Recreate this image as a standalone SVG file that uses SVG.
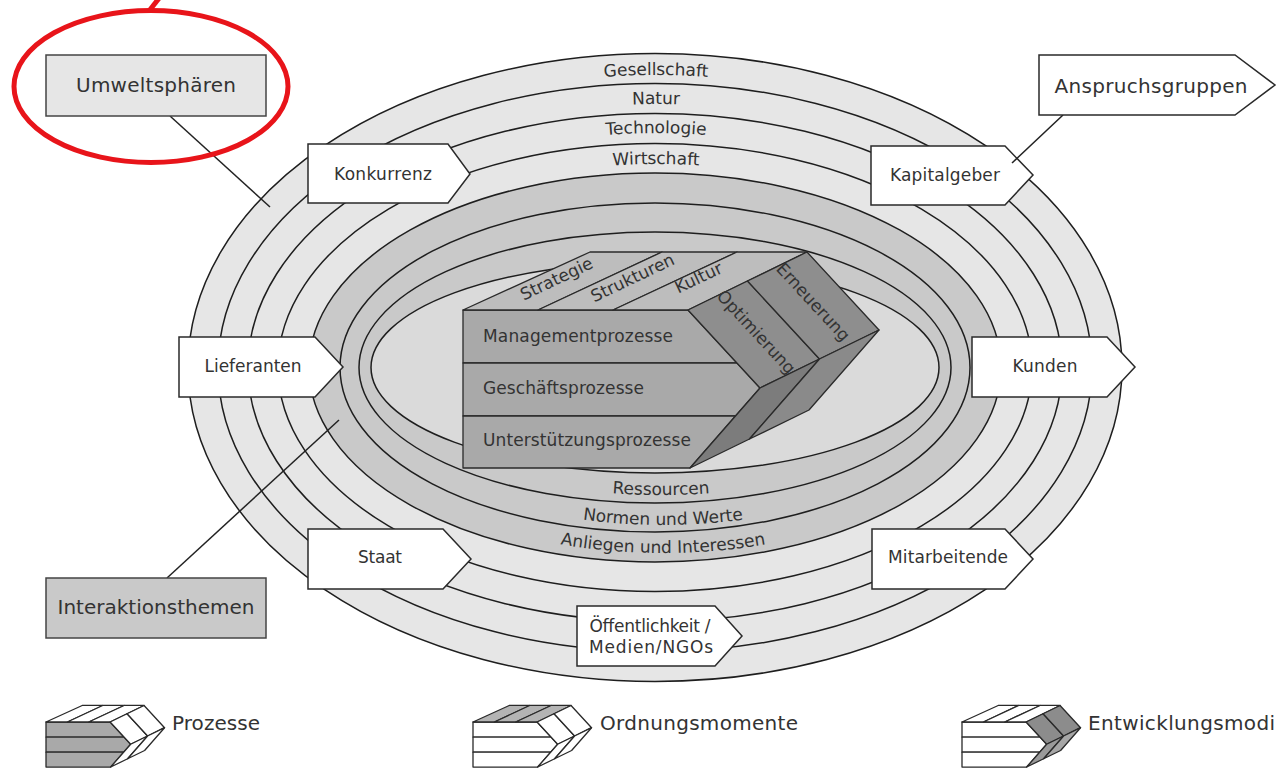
<svg xmlns="http://www.w3.org/2000/svg" xmlns:xlink="http://www.w3.org/1999/xlink" width="1282" height="768" viewBox="0 0 1282 768">
  <style>
    text { font-family: "DejaVu Sans", "Liberation Sans", sans-serif; fill: #333; }
    .lbl { font-size: 17px; }
    .big { font-size: 20px; }
    .mid { text-anchor: middle; }
    .ring { stroke: #1e1e1e; stroke-width: 1.5; }
    .band { fill: #e6e6e6; }
    .core { fill: #c9c9c9; }
    .hub { fill: #dadada; }
    .tag { fill: #fff; stroke: #2a2a2a; stroke-width: 1.5; stroke-linejoin: miter; }
    .key { stroke: #444; stroke-width: 1.5; }
    .edge { stroke: #222; stroke-width: 1.5; fill: none; }
    .face { stroke: #2a2a2a; stroke-width: 1.3; stroke-linejoin: round; vector-effect: non-scaling-stroke; }
    .f-front { fill: var(--front, #a9a9a9); }
    .f-top { fill: var(--top, #bdbdbd); }
    .f-side { fill: var(--side, #8e8e8e); }
    .f-low { fill: var(--low, #7c7c7c); }
    .f-low2 { fill: var(--low2, #8a8a8a); }
    .mark { fill: none; stroke: #e8141a; stroke-width: 5; }
  </style>
  <defs>
    <!-- prism: front (process rows), top (order stripes), slanted side (development modes) -->
    <g id="prism">
      <polygon class="face f-front" points="0,0 225,0 274,53 0,53"/>
      <polygon class="face f-front" points="0,53 274,53 297,78 272.5,106 0,106"/>
      <polygon class="face f-front" points="0,106 272.5,106 227,158 0,158"/>
      <polygon class="face f-top" points="0,0 127,-58 199,-58 75,0"/>
      <polygon class="face f-top" points="75,0 199,-58 274,-58 150,0"/>
      <polygon class="face f-top" points="150,0 274,-58 344,-58 225,0"/>
      <polygon class="face f-side" points="225,0 284.5,-29 356.5,49 297,78"/>
      <polygon class="face f-side" points="284.5,-29 344,-58 416,20 356.5,49"/>
      <polygon class="face f-low" points="297,78 356.5,49 286.5,129 227,158"/>
      <polygon class="face f-low2" points="356.5,49 416,20 346,100 286.5,129"/>
    </g>
    <path id="arcGes" d="M 210,367.5 A 446,292.5 0 0 1 1102,367.5"/>
    <path id="arcNat" d="M 240,367.5 A 416,263.5 0 0 1 1072,367.5"/>
    <path id="arcTec" d="M 270,367.5 A 386,234.5 0 0 1 1042,367.5"/>
    <path id="arcWir" d="M 300,367.5 A 356,203.5 0 0 1 1012,367.5"/>
    <path id="arcRes" d="M 374,367.5 A 287,127.5 0 0 0 948,367.5"/>
    <path id="arcNor" d="M 354,367.5 A 309,157.5 0 0 0 972,367.5"/>
    <path id="arcAnl" d="M 324,367.5 A 339,185.5 0 0 0 1002,367.5"/>
  </defs>

  <rect width="1282" height="768" fill="#fff"/>

  <!-- concentric spheres -->
  <g id="spheres">
    <ellipse class="ring band" cx="655" cy="367.5" rx="467" ry="314"/>
    <ellipse class="ring band" cx="655" cy="367.5" rx="437" ry="284"/>
    <ellipse class="ring band" cx="655" cy="367.5" rx="407" ry="254"/>
    <ellipse class="ring band" cx="655" cy="367.5" rx="377" ry="224"/>
    <ellipse class="ring core" cx="655" cy="367.5" rx="346" ry="194.5"/>
    <ellipse class="ring core" cx="655" cy="367.5" rx="315" ry="164.5"/>
    <ellipse class="ring core" cx="655" cy="367.5" rx="296" ry="135.5"/>
    <ellipse class="ring hub" cx="655" cy="367.5" rx="284" ry="105.5"/>
  </g>

  <g id="sphere-labels" class="lbl">
    <text class="mid"><textPath xlink:href="#arcGes" startOffset="50%">Gesellschaft</textPath></text>
    <text class="mid"><textPath xlink:href="#arcNat" startOffset="50%">Natur</textPath></text>
    <text class="mid"><textPath xlink:href="#arcTec" startOffset="50%">Technologie</textPath></text>
    <text class="mid"><textPath xlink:href="#arcWir" startOffset="50%">Wirtschaft</textPath></text>
    <text class="mid"><textPath xlink:href="#arcRes" startOffset="50%">Ressourcen</textPath></text>
    <text class="mid"><textPath xlink:href="#arcNor" startOffset="50%">Normen und Werte</textPath></text>
    <text class="mid"><textPath xlink:href="#arcAnl" startOffset="50%">Anliegen und Interessen</textPath></text>
  </g>

  <!-- company model -->
  <g id="unternehmen">
    <use xlink:href="#prism" transform="translate(463,310)"/>
    <text class="lbl" x="483" y="342" textLength="190">Managementprozesse</text>
    <text class="lbl" x="483" y="394" textLength="161">Geschäftsprozesse</text>
    <text class="lbl" x="483" y="446" textLength="208">Unterstützungsprozesse</text>
    <text class="lbl mid" transform="translate(559,284) rotate(-25.4)">Strategie</text>
    <text class="lbl mid" transform="translate(635,283) rotate(-25.4)">Strukturen</text>
    <text class="lbl mid" transform="translate(701,283) rotate(-25.4)">Kultur</text>
    <text class="lbl mid" transform="translate(752,336) rotate(47.3)">Optimierung</text>
    <text class="lbl mid" transform="translate(809,306) rotate(47.3)">Erneuerung</text>
  </g>

  <!-- stakeholder tags -->
  <g id="konkurrenz">
    <polygon class="tag" points="308,144 448,144 470,174 448,203 308,203"/>
    <text class="lbl mid" x="383" y="180" textLength="98">Konkurrenz</text>
  </g>
  <g id="kapitalgeber">
    <polygon class="tag" points="871,146 1005,146 1033,175 1005,205 871,205"/>
    <text class="lbl mid" x="945" y="181" textLength="110">Kapitalgeber</text>
  </g>
  <g id="lieferanten">
    <polygon class="tag" points="179,337 315,337 343,367 315,397 179,397"/>
    <text class="lbl mid" x="253" y="372" textLength="97">Lieferanten</text>
  </g>
  <g id="kunden">
    <polygon class="tag" points="972,337 1107,337 1135,367 1107,397 972,397"/>
    <text class="lbl mid" x="1045" y="372" textLength="65">Kunden</text>
  </g>
  <g id="staat">
    <polygon class="tag" points="308,529 443,529 471,559 443,589 308,589"/>
    <text class="lbl mid" x="380" y="563" textLength="44">Staat</text>
  </g>
  <g id="mitarbeitende">
    <polygon class="tag" points="872,529 1005,529 1033,559 1005,589 872,589"/>
    <text class="lbl mid" x="948" y="563" textLength="120">Mitarbeitende</text>
  </g>
  <g id="oeffentlichkeit">
    <polygon class="tag" points="577,606 715,606 742,636 715,666 577,666"/>
    <text class="lbl mid" x="650" y="632" textLength="121">Öffentlichkeit /</text>
    <text class="lbl mid" x="651" y="653" textLength="124">Medien/NGOs</text>
  </g>

  <!-- leader lines -->
  <g id="connectors">
    <line class="edge" x1="170" y1="116" x2="270" y2="207"/>
    <line class="edge" x1="1063" y1="115" x2="1012" y2="163"/>
    <line class="edge" x1="167" y1="578" x2="339" y2="420"/>
  </g>

  <!-- category captions -->
  <g id="umweltsphaeren">
    <rect class="key" x="46" y="55" width="220" height="61" fill="#e6e6e6"/>
    <text class="big mid" x="156" y="92" textLength="160">Umweltsphären</text>
  </g>
  <g id="anspruchsgruppen">
    <polygon class="tag" points="1039,55 1235,55 1275,85 1235,115 1039,115"/>
    <text class="big mid" x="1151" y="93" textLength="193">Anspruchsgruppen</text>
  </g>
  <g id="interaktionsthemen">
    <rect class="key" x="46" y="578" width="220" height="60" fill="#c9c9c9"/>
    <text class="big mid" x="156" y="614" textLength="197">Interaktionsthemen</text>
  </g>

  <!-- highlight -->
  <g id="highlight">
    <ellipse class="mark" cx="151" cy="86.5" rx="137" ry="76"/>
    <line class="mark" x1="149" y1="11" x2="160" y2="-3" stroke-width="4"/>
  </g>

  <!-- legend -->
  <g id="legend-prozesse">
    <use xlink:href="#prism" transform="translate(46,722) scale(0.285)" style="--front:#a9a9a9;--top:#fff;--side:#fff;--low:#fff;--low2:#fff"/>
    <text class="big" x="172" y="730" textLength="88">Prozesse</text>
  </g>
  <g id="legend-ordnung">
    <use xlink:href="#prism" transform="translate(473,722) scale(0.285)" style="--front:#fff;--top:#b4b4b4;--side:#fff;--low:#fff;--low2:#fff"/>
    <text class="big" x="600" y="730" textLength="198">Ordnungsmomente</text>
  </g>
  <g id="legend-entwicklung">
    <use xlink:href="#prism" transform="translate(962,722) scale(0.285)" style="--front:#fff;--top:#fff;--side:#8c8c8c;--low:#9a9a9a;--low2:#a6a6a6"/>
    <text class="big" x="1088" y="730" textLength="187">Entwicklungsmodi</text>
  </g>
</svg>
